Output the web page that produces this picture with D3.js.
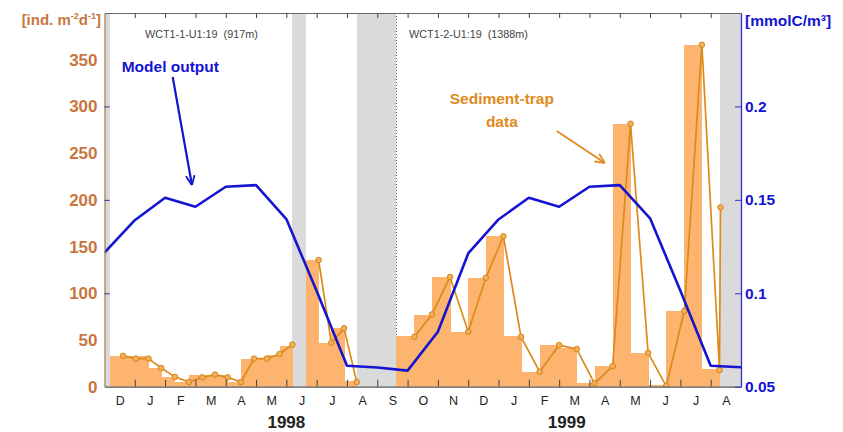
<!DOCTYPE html>
<html><head><meta charset="utf-8">
<script src="https://cdn.jsdelivr.net/npm/d3@7"></script>
<style>body{margin:0;background:#fff}svg{display:block;font-family:"Liberation Sans",Arial,sans-serif}</style>
</head><body>
<script>
// ---------- data ----------
const monthLabels = ["D","J","F","M","A","M","J","J","A","S","O","N","D","J","F","M","A","M","J","J","A"];
const yearLabels = ["1998","1999"];
const yearLabelPos = [6, 15.25];            // month index of label centre
const leftTicks = [0,50,100,150,200,250,300,350];
const rightTicks = [0.05,0.1,0.15,0.2];

// gaps in sediment trap record (grey bands)
const gapStarts = ["1997-12-01","1998-06-07","1998-08-11","1999-08-11"];
const gapEnds   = ["1997-12-07","1998-06-20","1998-09-20","1999-09-01"];
const deploymentBreak = "1998-09-20";

// WCT1-1 deployment, first part (13-day cups)
const trap1aStart = "1997-12-07";
const trap1aDates = ["1997-12-20","1998-01-02","1998-01-15","1998-01-28","1998-02-10","1998-02-23","1998-03-08","1998-03-21","1998-04-03","1998-04-16","1998-04-29","1998-05-12","1998-05-25","1998-06-07"];
const trap1aBars  = [33,33,33,20,10,5,12,12,12,5,30,30,34,44];
const trap1aLine  = [33,30,30,20,10.5,5,10,13,10,5,30,30,35,45];

// WCT1-1 deployment, second part
const trap1bStart = "1998-06-20";
const trap1bDates = ["1998-07-03","1998-07-16","1998-07-29","1998-08-11"];
const trap1bBars  = [136,47,63,6];
const trap1bLine  = [135.5,47,62.4,5];

// WCT1-2 deployment (18-day cups)
const trap2Start = "1998-09-20";
const trap2Dates = ["1998-10-08","1998-10-26","1998-11-13","1998-12-01","1998-12-19","1999-01-06","1999-01-24","1999-02-11","1999-03-01","1999-03-19","1999-04-06","1999-04-24","1999-05-12","1999-05-30","1999-06-17","1999-07-05","1999-07-23","1999-08-10","1999-08-11"];
const trap2Bars  = [54,77,117.5,59,116,161,54,16,45,41,4,22,281,36.5,2,81,366,19];
const trap2Line  = [53.4,77.4,117.5,58.8,116.5,161,53.4,16,44.5,40.3,3.6,22,281.4,36.3,0.7,81,366,17.8,192];

// model output at month starts, Dec 1997 .. Sep 1999
const modelDates = ["1997-12-01","1998-01-01","1998-02-01","1998-03-01","1998-04-01","1998-05-01","1998-06-01","1998-07-01","1998-08-01","1998-09-01","1998-10-01","1998-11-01","1998-12-01","1999-01-01","1999-02-01","1999-03-01","1999-04-01","1999-05-01","1999-06-01","1999-07-01","1999-08-01","1999-09-01"];
const modelValues = [0.1217,0.1391,0.1511,0.1463,0.1570,0.1579,0.1397,0.1012,0.0612,0.0603,0.0586,0.0794,0.1213,0.1395,0.1511,0.1463,0.1570,0.1579,0.1401,0.1014,0.0612,0.0604];

// ---------- helpers ----------
function mIdx(s){
  const [y,mo,d] = s.split("-").map(Number);
  const dim = new Date(y, mo, 0).getDate();
  return (y-1997)*12 + (mo-1) - 11 + (d-1)/dim;
}

const W = 843, H = 432;
const L = 104.5, R = 741, T = 13, B = 386.7;
const x  = d3.scaleLinear().domain([0,21]).range([L,R]);
const yL = d3.scaleLinear().domain([0,400]).range([B,T]);
const yR = d3.scaleLinear().domain([0.05,0.25]).range([B,T]);

const C = {
  bar:"#fdb46e", line:"#dc8a1c", mfill:"#f3b056", mstroke:"#d2861c",
  blue:"#1414d2", brown:"#c8763e", grey:"#dadada"
};

const svg = d3.select("body").append("svg").attr("width",W).attr("height",H);
const defs = svg.append("defs");
defs.append("clipPath").attr("id","plot").append("rect")
  .attr("x",L).attr("y",T).attr("width",R-L).attr("height",B-T);
function arrowMarker(id,color){
  defs.append("marker").attr("id",id).attr("markerUnits","userSpaceOnUse")
    .attr("viewBox","0 0 10 10").attr("refX",10).attr("refY",5)
    .attr("markerWidth",10).attr("markerHeight",10).attr("orient","auto")
    .append("path").attr("d","M0,0.5 L10,5 L0,9.5").attr("fill","none")
    .attr("stroke",color).attr("stroke-width",1.8);
}
arrowMarker("arrB",C.blue); arrowMarker("arrO","#e08a20");

const plot = svg.append("g").attr("clip-path","url(#plot)");

// grey gap bands
plot.selectAll("rect.gap").data(gapStarts).join("rect").attr("class","gap")
  .attr("x",(d)=>x(mIdx(d))).attr("y",T)
  .attr("width",(d,i)=>x(mIdx(gapEnds[i]))-x(mIdx(d)))
  .attr("height",B-T).attr("fill",C.grey).attr("shape-rendering","crispEdges");

// deployment separator
plot.append("line").attr("x1",x(mIdx(deploymentBreak))).attr("x2",x(mIdx(deploymentBreak)))
  .attr("y1",T).attr("y2",B).attr("stroke","#555").attr("stroke-width",1).attr("stroke-dasharray","1,2");

const segments = [
  {start:trap1aStart, dates:trap1aDates, bars:trap1aBars, line:trap1aLine},
  {start:trap1bStart, dates:trap1bDates, bars:trap1bBars, line:trap1bLine},
  {start:trap2Start,  dates:trap2Dates,  bars:trap2Bars,  line:trap2Line}
];

// bars
segments.forEach(s=>{
  const rows = s.bars.map((v,i)=>({a: i===0 ? s.start : s.dates[i-1], b: s.dates[i], v}));
  plot.append("g").attr("shape-rendering","crispEdges").selectAll("rect").data(rows).join("rect")
    .attr("x",d=>x(mIdx(d.a))).attr("width",d=>x(mIdx(d.b))-x(mIdx(d.a))+0.6)
    .attr("y",d=>yL(d.v)).attr("height",d=>yL(0)-yL(d.v)).attr("fill",C.bar);
});

// trap lines and markers
const tl = d3.line().x(d=>x(mIdx(d.date))).y(d=>yL(d.v));
segments.forEach(s=>{
  const pts = s.line.map((v,i)=>({date:s.dates[i], v}));
  plot.append("path").datum(pts).attr("d",tl).attr("fill","none")
    .attr("stroke",C.line).attr("stroke-width",1.7).attr("stroke-linejoin","round");
  plot.append("g").selectAll("circle").data(pts).join("circle")
    .attr("cx",d=>x(mIdx(d.date))).attr("cy",d=>yL(d.v)).attr("r",2.8)
    .attr("fill",C.mfill).attr("stroke",C.mstroke).attr("stroke-width",1);
});

// model line
const ml = d3.line().x(d=>x(mIdx(d.date))).y(d=>yR(d.v));
plot.append("path").datum(modelValues.map((v,i)=>({date:modelDates[i], v})))
  .attr("d",ml).attr("fill","none").attr("stroke",C.blue).attr("stroke-width",2.6)
  .attr("stroke-linejoin","round");

// ---------- axes ----------
const inner = d3.range(1,21);
const gTop = svg.append("g").attr("transform",`translate(0,${T})`)
  .call(d3.axisTop(x).tickValues(inner).tickSize(-5).tickSizeOuter(0).tickFormat(""));
gTop.selectAll("line").attr("stroke","#444");
gTop.select(".domain").attr("stroke","#666");

const gBot = svg.append("g").attr("transform",`translate(0,${B})`)
  .call(d3.axisBottom(x).tickValues(inner).tickSize(-7).tickSizeOuter(0).tickFormat(""));
gBot.selectAll("line").attr("stroke","#444");
gBot.select(".domain").attr("stroke","#555").attr("stroke-width",1.2);

const gMon = svg.append("g").attr("transform",`translate(0,${B})`)
  .call(d3.axisBottom(x).tickValues(monthLabels.map((d,i)=>i+0.5)).tickSize(0).tickPadding(9)
    .tickFormat((d,i)=>monthLabels[i]));
gMon.select(".domain").remove();
gMon.selectAll("text").attr("font-size",12.5).attr("fill","#222")
  .attr("font-family","Liberation Sans, Arial, sans-serif");

svg.append("g").selectAll("text").data(yearLabels).join("text")
  .attr("x",(d,i)=>x(yearLabelPos[i])).attr("y",427.5).attr("text-anchor","middle")
  .attr("font-size",17).attr("font-weight","bold").attr("fill","#222").text(d=>d);

// left axis
const gL = svg.append("g").attr("transform",`translate(${L},0)`)
  .call(d3.axisLeft(yL).tickValues(leftTicks).tickSize(0).tickPadding(7).tickSizeOuter(0));
gL.select(".domain").attr("stroke","#a8844c").attr("stroke-width",1.3);
gL.selectAll("text").attr("font-size",17).attr("font-weight","bold").attr("fill",C.brown)
  .attr("font-family","Liberation Sans, Arial, sans-serif");
// right-axis ticks mirrored on left side
svg.append("g").attr("transform",`translate(${L},0)`)
  .call(d3.axisLeft(yR).tickValues(rightTicks.slice(1)).tickSize(-5).tickSizeOuter(0).tickFormat(""))
  .call(g=>{g.select(".domain").remove(); g.selectAll("line").attr("stroke","#2a2ac0");});

// right axis
const gR = svg.append("g").attr("transform",`translate(${R},0)`)
  .call(d3.axisRight(yR).tickValues(rightTicks).tickSize(-6).tickPadding(4).tickSizeOuter(0)
    .tickFormat(d=>String(d)));
gR.select(".domain").attr("stroke","#3030c8").attr("stroke-width",1.3);
gR.selectAll("line").attr("stroke","#3030c8");
gR.selectAll("text").attr("font-size",15.5).attr("font-weight","bold").attr("fill",C.blue)
  .attr("font-family","Liberation Sans, Arial, sans-serif");

// axis titles
const lt = svg.append("text").attr("x",101).attr("y",24.5).attr("text-anchor","end")
  .attr("font-size",15).attr("font-weight","bold").attr("fill",C.brown);
lt.append("tspan").text("[ind. m");
lt.append("tspan").attr("font-size",9).attr("dy",-6).text("-2");
lt.append("tspan").attr("dy",6).text("d");
lt.append("tspan").attr("font-size",9).attr("dy",-6).text("-1");
lt.append("tspan").attr("dy",6).text("]");
svg.append("text").attr("x",745).attr("y",25.5).attr("font-size",15.5).attr("font-weight","bold")
  .attr("fill",C.blue).text("[mmolC/m³]");

// ---------- annotations ----------
const stationLabels = ["WCT1-1-U1:19  (917m)","WCT1-2-U1:19  (1388m)"];
const stationPos = [1.336, 10.05];
svg.append("g").selectAll("text").data(stationLabels).join("text")
  .attr("x",(d,i)=>x(stationPos[i])).attr("y",yL(373.5)).attr("font-size",10.8)
  .attr("fill","#444").style("white-space","pre").text(d=>d);

svg.append("text").attr("x",x(0.567)).attr("y",yL(336.5)).attr("font-size",15.5)
  .attr("font-weight","bold").attr("fill",C.blue).text("Model output");
svg.append("line").attr("x1",x(2.25)).attr("y1",yL(331.5)).attr("x2",x(2.887)).attr("y2",yL(215.7))
  .attr("stroke",C.blue).attr("stroke-width",2.2).attr("marker-end","url(#arrB)");

const sedLines = ["Sediment-trap","data"];
svg.append("g").selectAll("text").data(sedLines).join("text")
  .attr("x",x(13.11)).attr("y",(d,i)=>yL([302.6,278.5][i])).attr("text-anchor","middle")
  .attr("font-size",15.5).attr("font-weight","bold").attr("fill","#e08a20").text(d=>d);
svg.append("line").attr("x1",x(14.92)).attr("y1",yL(273.7)).attr("x2",x(16.51)).attr("y2",yL(239.4))
  .attr("stroke","#e08a20").attr("stroke-width",1.8).attr("marker-end","url(#arrO)");
</script>
</body></html>
